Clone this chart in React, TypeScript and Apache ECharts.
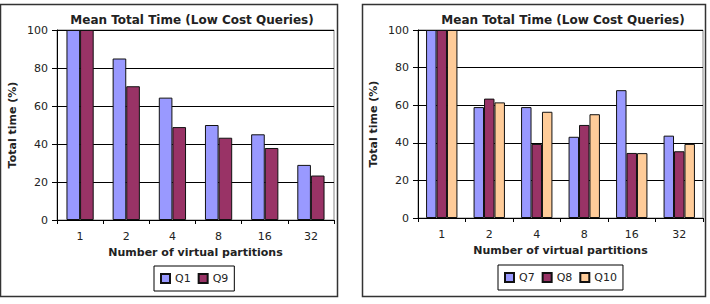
import React, { useEffect, useRef } from "react";
import * as echarts from "echarts";

// Virtual partition counts (x categories)
const partitions = ["1", "2", "4", "8", "16", "32"];

// Left panel: total time relative to 1 partition (%)
const q1 = [100, 85, 64.4, 50, 45.1, 29];
const q9 = [100, 70.4, 48.9, 43.3, 37.9, 23.4];

// Right panel
const q7 = [100, 59, 59, 43.2, 68, 43.8];
const q8 = [100, 63.5, 39.4, 49.5, 34.6, 35.5];
const q10 = [100, 61.5, 56.5, 55.2, 34.5, 39.4];

const yTicks = [0, 20, 40, 60, 80, 100];

const FONT = "DejaVu Sans, Verdana, sans-serif";
const TITLE = "Mean Total Time (Low Cost Queries)";
const X_NAME = "Number of virtual partitions";
const Y_NAME = "Total time (%)";

const COLORS = { lav: "#9999FF", plum: "#993366", peach: "#FFCC99" };

function makeX(gridIndex: number) {
  return {
    type: "category" as const,
    gridIndex,
    data: partitions,
    boundaryGap: true,
    axisLine: { show: true, lineStyle: { color: "#000", width: 1 } },
    axisTick: { show: true, length: 4, inside: false, lineStyle: { color: "#000" } },
    axisLabel: { color: "#222", fontFamily: FONT, fontSize: 11, margin: 11 },
    name: X_NAME,
    nameLocation: "middle" as const,
    nameGap: 25,
    nameTextStyle: { color: "#222", fontFamily: FONT, fontSize: 11, fontWeight: "bold" as const },
  };
}

function makeY(gridIndex: number) {
  return {
    type: "value" as const,
    gridIndex,
    min: yTicks[0],
    max: yTicks[yTicks.length - 1],
    interval: 20,
    axisLine: { show: true, lineStyle: { color: "#000", width: 1 } },
    axisTick: { show: true, length: 5, lineStyle: { color: "#000" } },
    axisLabel: { color: "#222", fontFamily: FONT, fontSize: 11, margin: 9 },
    splitLine: { show: true, lineStyle: { color: "#000", width: 1 } },
    name: Y_NAME,
    nameLocation: "middle" as const,
    nameRotate: 90,
    nameGap: 39,
    nameTextStyle: { color: "#222", fontFamily: FONT, fontSize: 11, fontWeight: "bold" as const },
  };
}

function bar(name: string, data: number[], color: string, idx: number, catGap: string) {
  return {
    type: "bar" as const,
    name,
    data,
    xAxisIndex: idx,
    yAxisIndex: idx,
    barGap: "0%",
    barCategoryGap: catGap,
    itemStyle: { color, borderColor: "#111", borderWidth: 1 },
  };
}

export default function App() {
  const ref = useRef<HTMLDivElement>(null);

  useEffect(() => {
    if (!ref.current) return;
    const chart = echarts.init(ref.current, null, { renderer: "svg" });
    const titleStyle = { color: "#222", fontFamily: FONT, fontSize: 12, fontWeight: "bold" as const };
    const legendBase = {
      orient: "horizontal" as const,
      icon: "rect",
      itemWidth: 9,
      itemHeight: 9,
      itemGap: 7,
      borderColor: "#000",
      borderWidth: 1,
      padding: [7, 6, 7, 6],
      textStyle: { color: "#222", fontFamily: FONT, fontSize: 11 },
    };
    chart.setOption({
      animation: false,
      backgroundColor: "#fff",
      graphic: [
        { type: "rect", shape: { x: 0.5, y: 4.5, width: 337, height: 292 }, style: { fill: "none", stroke: "#333", lineWidth: 1.5 }, z: 0 },
        { type: "rect", shape: { x: 362.5, y: 4.5, width: 343, height: 292 }, style: { fill: "none", stroke: "#333", lineWidth: 1.5 }, z: 0 },
      ],
      title: [
        { text: TITLE, left: 187, textAlign: "center", top: 9, textStyle: titleStyle },
        { text: TITLE, left: 558, textAlign: "center", top: 9, textStyle: titleStyle },
      ],
      legend: [
        { ...legendBase, data: ["Q1", "Q9"], left: 154, top: 266 },
        { ...legendBase, data: ["Q7", "Q8", "Q10"], left: 498, top: 265 },
      ],
      grid: [
        { left: 57, top: 30, width: 277, height: 190, show: true, borderColor: "#888", borderWidth: 1, backgroundColor: "#fff" },
        { left: 418, top: 30, width: 285, height: 188, show: true, borderColor: "#888", borderWidth: 1, backgroundColor: "#fff" },
      ],
      xAxis: [makeX(0), makeX(1)],
      yAxis: [makeY(0), makeY(1)],
      series: [
        bar("Q1", q1, COLORS.lav, 0, "41%"),
        bar("Q9", q9, COLORS.plum, 0, "41%"),
        bar("Q7", q7, COLORS.lav, 1, "34%"),
        bar("Q8", q8, COLORS.plum, 1, "34%"),
        bar("Q10", q10, COLORS.peach, 1, "34%"),
      ],
    });
    return () => chart.dispose();
  }, []);

  return (
    <div
      ref={ref}
      style={{ position: "fixed", left: 0, top: 0, width: 710, height: 304, background: "#fff" }}
    />
  );
}
